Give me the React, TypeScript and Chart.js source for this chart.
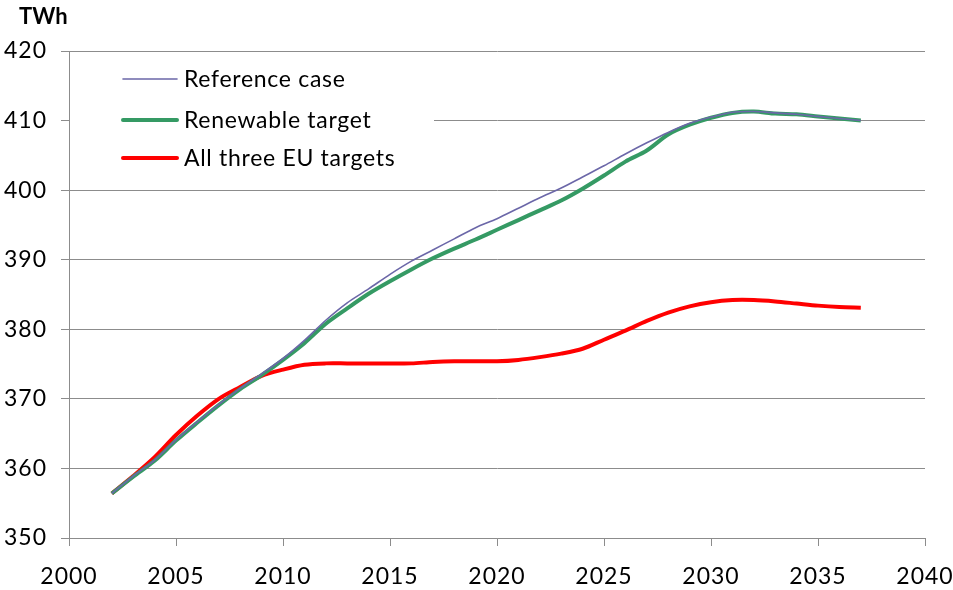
import React, { useEffect, useRef } from "react";
import { Chart, registerables } from "chart.js";

Chart.register(...registerables);

const years = [
  2002, 2003, 2004, 2005, 2006, 2007, 2008, 2009, 2010, 2011, 2012, 2013,
  2014, 2015, 2016, 2017, 2018, 2019, 2020, 2021, 2022, 2023, 2024, 2025,
  2026, 2027, 2028, 2029, 2030, 2031, 2032, 2033, 2034, 2035, 2036, 2037,
];

const referenceCase = [
  356.4, 358.9, 361.2, 364.1, 366.7, 369.2, 371.5, 373.6, 375.8, 378.4, 381.3, 383.8,
  385.8, 387.9, 389.8, 391.4, 393.0, 394.6, 395.9, 397.4, 398.9, 400.3, 401.9, 403.5,
  405.2, 406.8, 408.3, 409.6, 410.5, 411.2, 411.3, 411.1, 410.9, 410.6, 410.3, 410.0,
];

const renewableTarget = [
  356.4, 358.8, 361.1, 364.0, 366.6, 369.1, 371.4, 373.4, 375.6, 378.0, 380.8, 383.0,
  385.1, 386.9, 388.6, 390.2, 391.6, 392.9, 394.3, 395.7, 397.1, 398.5, 400.2, 402.1,
  404.1, 405.7, 408.0, 409.4, 410.4, 411.1, 411.3, 411.0, 410.9, 410.6, 410.3, 410.0,
];

const allThreeTargets = [
  356.4, 358.9, 361.6, 364.8, 367.6, 370.0, 371.7, 373.3, 374.2, 374.9, 375.1, 375.1,
  375.1, 375.1, 375.1, 375.3, 375.4, 375.4, 375.4, 375.6, 376.0, 376.5, 377.2, 378.5,
  379.8, 381.2, 382.4, 383.3, 383.9, 384.2, 384.2, 384.0, 383.7, 383.4, 383.2, 383.1,
];

const seriesLabels = ["Reference case", "Renewable target", "All three EU targets"];
const yTicks = { min: 350, max: 420, step: 10 };
const xTicks = { min: 2000, max: 2040, step: 5 };
const unitLabel = "TWh";

const FONT = "Lato, 'Open Sans', sans-serif";

const overlayPlugin = {
  id: "overlay",
  beforeDraw(chart: any) {
    chart.ctx.letterSpacing = "1px";
  },
  beforeDatasetsDraw(chart: any) {
    const { ctx, chartArea } = chart;
    ctx.save();
    ctx.fillStyle = "#ffffff";
    ctx.fillRect(chartArea.left + 1, chartArea.top + 4, 364, 130);
    const rows = [79, 120, 158];
    chart.data.datasets.forEach((ds: any, i: number) => {
      const y = rows[i];
      ctx.strokeStyle = ds.borderColor;
      ctx.lineWidth = ds.borderWidth;
      ctx.lineCap = "round";
      ctx.beginPath();
      ctx.moveTo(123, y);
      ctx.lineTo(177, y);
      ctx.stroke();
      ctx.fillStyle = "#000000";
      ctx.letterSpacing = "0.7px";
      ctx.font = `23px ${FONT}`;
      ctx.textBaseline = "middle";
      ctx.textAlign = "left";
      ctx.fillText(ds.label, 184, y + 1);
    });
    ctx.restore();
  },
  afterDraw(chart: any) {
    const { ctx } = chart;
    ctx.save();
    ctx.fillStyle = "#000000";
    ctx.letterSpacing = "0px";
    ctx.font = `bold 22px ${FONT}`;
    ctx.textBaseline = "middle";
    ctx.textAlign = "left";
    ctx.fillText(unitLabel, 19, 17);
    ctx.restore();
  },
};

export default function App() {
  const canvasRef = useRef<HTMLCanvasElement | null>(null);

  useEffect(() => {
    if (!canvasRef.current) return;
    const mk = (vals: number[]) => years.map((x, i) => ({ x, y: vals[i] }));
    const chart = new Chart(canvasRef.current, {
      type: "line",
      data: {
        datasets: [
          {
            label: seriesLabels[0],
            data: mk(referenceCase),
            borderColor: "#6b67a8",
            borderWidth: 1.6,
            pointRadius: 0,
            tension: 0.3,
          },
          {
            label: seriesLabels[1],
            data: mk(renewableTarget),
            borderColor: "#359a64",
            borderWidth: 4,
            pointRadius: 0,
            tension: 0.3,
          },
          {
            label: seriesLabels[2],
            data: mk(allThreeTargets),
            borderColor: "#ff0000",
            borderWidth: 4,
            pointRadius: 0,
            tension: 0.3,
          },
        ],
      },
      options: {
        animation: false,
        responsive: false,
        maintainAspectRatio: false,
        layout: { padding: { top: 51, right: 28, left: 0, bottom: 0 } },
        plugins: {
          legend: { display: false },
          tooltip: { enabled: false },
          title: { display: false },
        },
        scales: {
          x: {
            type: "linear",
            min: xTicks.min,
            max: xTicks.max,
            ticks: {
              stepSize: xTicks.step,
              color: "#000000",
              font: { family: FONT, size: 23 },
              padding: 17,
              maxRotation: 0,
              callback: (v: any) => String(v),
            },
            grid: {
              drawOnChartArea: false,
              drawTicks: true,
              tickLength: 8,
              color: "#8c8c8c",
              lineWidth: 1,
            },
            border: { color: "#8c8c8c", width: 1 },
            afterFit: (scale: any) => {
              scale.height = 52;
              scale.paddingRight = 0;
              scale.paddingLeft = 0;
            },
          },
          y: {
            min: yTicks.min,
            max: yTicks.max,
            ticks: {
              stepSize: yTicks.step,
              color: "#000000",
              font: { family: FONT, size: 23 },
              padding: 14,
            },
            grid: {
              color: "#8c8c8c",
              lineWidth: 1,
              tickLength: 8,
            },
            border: { color: "#8c8c8c", width: 1 },
            afterFit: (scale: any) => {
              scale.width = 69;
              scale.paddingTop = 0;
              scale.paddingBottom = 0;
            },
          },
        },
      },
      plugins: [overlayPlugin],
    });
    return () => chart.destroy();
  }, []);

  return (
    <div style={{ position: "absolute", left: 0, top: 0, width: 953, height: 590, background: "#fff" }}>
      <canvas ref={canvasRef} width={953} height={590} style={{ display: "block" }} />
    </div>
  );
}
